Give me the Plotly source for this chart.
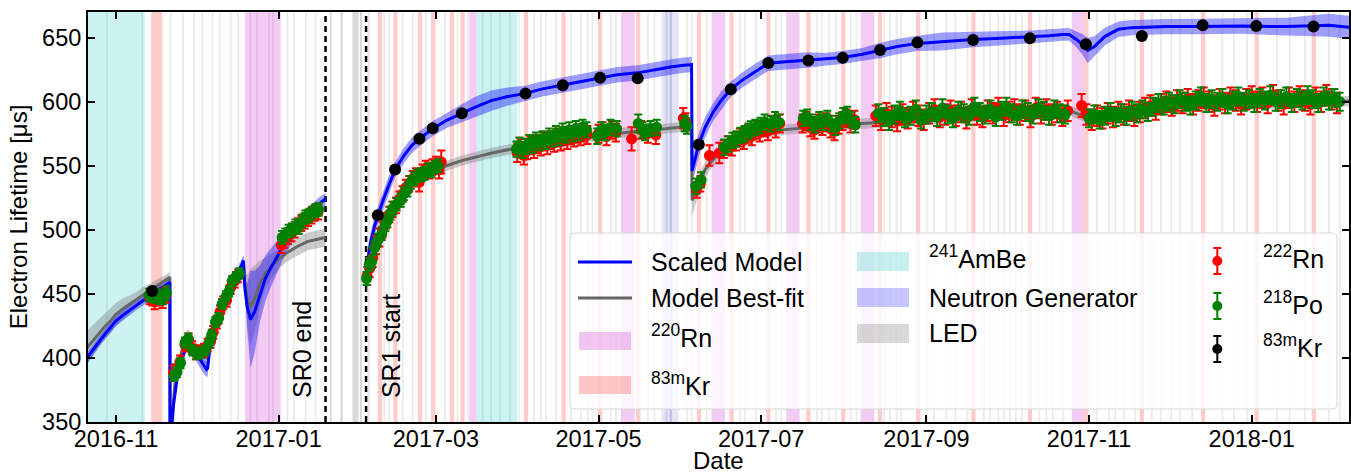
import pandas as pd
import plotly.graph_objects as go

# ---------------- DATA (days since EPOCH) ----------------
EPOCH = pd.Timestamp("2016-11-01")
X_RANGE = ["2016-10-21 12:00", "2018-02-06 12:00"]
Y_RANGE = [350, 670]
SR0_END = 78.6
SR1_START = 93.8

ambe_start = [-14.0, 135.3]
ambe_end = [10.8, 150.6]
rn220_start = [48.4, 132.5, 189.4, 223.4, 251.4, 279.3, 358.5]
rn220_end = [61.8, 135.3, 194.6, 228.5, 256.4, 284.5, 363.2]
kr83_start = [13.2, 98.2, 104.0, 113.2, 118.2, 125.2, 129.2, 153.0, 167.1, 180.8, 195.1, 217.9, 230.1,
              243.9, 258.9, 272.0, 285.8, 300.1, 320.8, 342.0, 363.2, 384.0, 407.0, 427.1, 448.5]
kr83_end = [17.4, 99.8, 105.6, 114.8, 119.8, 126.8, 130.8, 154.6, 168.7, 182.4, 196.7, 219.5, 231.7,
            245.5, 260.5, 273.6, 287.4, 301.7, 322.4, 343.6, 364.8, 385.6, 408.6, 428.7, 450.1]
ng_start = [204.6, 206.0, 207.6]
ng_end = [211.0, 207.0, 208.6]
led_days = [-3.8, 9.5, 20.1, 24.8, 28.9, 32.0, 35.8, 38.6, 42.7, 45.5, 50.0, 52.6, 57.0, 58.6, 63.9, 66.4,
            70.8, 74.5, 94.5, 100.3, 102.1, 107.2, 110.9, 115.9, 123.0, 127.8, 131.6, 137.2, 140.3,
            143.7, 147.4, 150.9, 156.5, 159.0, 160.9, 164.7, 170.3, 174.0, 176.6, 178.4, 185.3, 187.2,
            199.2, 201.6, 207.8, 213.8, 215.6, 221.3, 233.7, 235.6, 239.7, 247.2, 249.2, 262.6, 264.4,
            267.2, 269.7, 275.3, 277.4, 287.8, 290.0, 292.5, 294.1, 303.8, 306.5, 311.1, 314.5, 319.0,
            325.2, 327.5, 330.6, 332.8, 335.0, 337.2, 339.4, 346.0, 348.7, 351.0, 355.0, 367.6, 372.2,
            374.5, 377.8, 381.9, 388.2, 391.6, 395.5, 398.8, 403.3, 414.7, 419.0, 423.9, 435.2, 439.9,
            445.6, 454.6, 458.7]
led_gap_start = [80.2, 84.2, 88.7, 91.5]
led_gap_end = [80.9, 85.1, 91.0, 92.3]

# scaled model (blue) and best-fit model (grey), science run 0
sr0_days = [-12, -10.5, -8, -6, -4, -2, 0, 3, 5.3, 8, 10, 12.8, 15, 18, 20.2,
            20.3, 20.6, 21.0, 21.5, 22.1, 23.0, 24.0, 25.0, 26.0, 27.0, 28.0, 29.5, 31.0, 32.5, 34.0,
            34.4, 35.0, 36.0, 37.5, 39.0, 40.5, 42.0, 43.5, 45.0, 46.5, 47.8, 48.3, 49.2, 50.5, 52.0,
            54.0, 56.0, 58.0, 61.0, 64.0, 68.0, 72.0, 76.0, 78.6]
sr0_scaled = [396, 401, 408, 414, 419, 424, 429, 434, 437.5, 442, 445, 449, 452, 456, 459,
              300, 330, 350, 362, 373, 385, 394, 401, 407, 411, 410, 405, 400, 395, 391,
              392, 404, 418, 428, 437, 445, 451, 457, 463, 469, 476, 455, 440, 430, 436,
              450, 462, 470, 481, 492, 503, 512, 520, 524]
sr0_scaled_err = [4, 4, 4, 4, 4, 4, 4, 4, 4, 4, 4, 4, 4, 4, 4,
                  4, 4, 4, 4, 4, 4, 4, 4, 4, 4, 4, 5, 6, 6, 6,
                  6, 5, 4, 4, 4, 4, 4, 4, 4, 4, 4, 6, 18, 38, 32,
                  22, 18, 15, 12, 9, 6, 5, 5, 5]
sr0_fit = [403, 409, 415, 420, 425, 429, 434, 439, 442, 446, 449, 453, 456, 460, 463,
           300, 320, 345, 365, 380, 392, 400, 408, 414, 418, 414, 409, 405, 402, 400,
           400, 408, 420, 430, 438, 446, 452, 458, 464, 470, 475, 458, 445, 440, 446,
           458, 466, 471, 477, 482, 487, 491, 493, 494]
sr0_fit_err = [14, 13, 12, 11, 10, 10, 9, 8, 7, 6, 6, 5, 5, 4, 4,
               5, 5, 5, 5, 5, 5, 5, 5, 5, 5, 5, 5, 5, 5, 5,
               5, 5, 5, 5, 5, 5, 5, 5, 5, 5, 5, 8, 20, 30, 26,
               18, 12, 10, 8, 7, 7, 7, 7, 7]

# science run 1
sr1_days = [93.8, 94.5, 95.5, 97.0, 98.2, 100, 102, 104.7, 108, 111, 113.8, 118.8, 124, 129.7, 135,
            141, 147, 153.6, 160, 167.6, 175, 181.6, 188, 195.7, 202, 208, 213, 215.9, 216.1, 217,
            218.6, 221, 224, 227, 230.6, 235, 240, 244.7, 250, 259.7, 266, 272.6, 280, 286.6, 293,
            300.6, 310, 321.5, 332, 342.8, 350, 355, 357.5, 360, 362.5, 364.5, 367, 371, 376, 381,
            394, 407, 422, 439, 455, 462.5]
sr1_scaled = [468, 478, 490, 503, 511, 522, 533, 547, 558, 566, 571, 579, 585.5, 591, 596,
              601, 604, 606.5, 610, 613, 616, 618.7, 621, 622.5, 625, 627, 628.5, 629, 546, 553,
              566.6, 580, 592, 601, 609.7, 617, 624, 630, 631, 632.5, 633, 634.5, 637, 640, 643,
              645.5, 647, 648.5, 649.5, 650.5, 651.5, 652.5, 652.5, 649, 644.8, 640, 643, 651, 656.5, 657.8,
              658.6, 658.7, 659.1, 658.6, 659.6, 658]
sr1_scaled_err = [9, 9, 8, 8, 7, 7, 7, 6, 6, 6, 6, 6, 6, 7, 8,
                  8, 7, 6, 6, 6, 6, 6, 6, 6, 6, 6, 6, 6, 6, 10,
                  9, 8, 7, 7, 6, 6, 6, 6, 6, 6, 5, 5, 5, 6, 6,
                  6, 7, 6, 6, 5, 5, 5, 5, 6, 8, 10, 8, 7, 6, 6,
                  6, 6, 6, 7, 9, 9]
sr1_fit = [458, 465, 473, 484, 491, 500, 508, 517, 527, 534, 539, 545, 550, 554, 557,
           560, 562.5, 565, 567.5, 570, 572, 573.5, 575.5, 577, 578, 579.5, 580.5, 581, 523, 528,
           536, 547, 555, 561, 566, 571, 574, 576.5, 578, 580, 581, 582, 583, 584, 585,
           586, 587, 588.5, 590, 591, 592, 593, 593.5, 591, 589, 588, 588, 589.5, 591, 592.5,
           595, 596.5, 598, 599, 600, 600.5]
sr1_fit_err = [9, 8, 7, 6, 5, 5, 5, 4, 4, 4, 4, 4, 4, 4, 4,
               4, 4, 4, 4, 4, 4, 4, 4, 4, 4, 4, 4, 4, 12, 10,
               8, 6, 5, 4, 4, 4, 4, 4, 4, 4, 4, 4, 4, 4, 4,
               4, 4, 4, 4, 4, 4, 4, 4, 4, 4, 4, 4, 4, 4, 4,
               4, 4, 4, 4, 4, 4]

# 222Rn measurements
rn222_days = [12.6, 13.6, 14.5, 15.5, 16.5, 17.5, 18.6,
              21.5, 22.5, 24.0, 25.9, 27.2, 28.5, 30.0, 31.5, 33.0, 34.4, 35.5, 36.5, 37.8, 39.0, 40.2, 41.5, 43.0, 44.5, 45.8,
              62.0, 63.2, 64.5, 65.8, 67.0, 68.3, 69.5, 70.8, 72.0, 73.3, 74.5, 75.8,
              94.2, 95.2, 96.3, 97.5, 98.8, 100.0, 101.3, 102.5, 103.7, 105.0, 106.3, 107.5, 108.7, 110.0, 111.3, 112.5,
              113.7, 115.0, 116.2, 117.5, 118.7, 120.0, 121.2, 122.0,
              150.5, 151.8, 153.0, 154.3, 155.5, 156.8, 158.0, 159.3, 160.5, 161.8, 163.0, 164.3, 165.5, 166.8, 168.0,
              169.3, 170.5, 171.8, 173.0, 174.3, 175.5, 176.8, 181.0, 182.5, 184.0, 186.0, 187.5, 193.4, 197.0, 199.5,
              202.5, 212.8, 213.6,
              217.8, 219.2, 222.6, 226.3, 228.0, 229.5, 231.0, 232.5, 234.0, 235.5, 237.0, 238.5, 240.0, 241.5, 243.0,
              244.5, 246.0, 247.5, 249.0,
              257.5, 259.0, 260.5, 262.0, 263.5, 265.0, 266.5, 268.0, 269.5, 271.0, 272.5, 274.0, 275.5, 277.0,
              285, 287, 289, 291, 293, 295, 297, 299, 301, 303, 305, 307, 309, 311, 313, 315, 317, 319, 321, 323,
              325, 327, 329, 331, 333, 335, 337, 339, 341, 343, 345, 347, 349, 351, 353, 355, 357, 362.2,
              364, 366, 368, 370, 372, 374, 376, 378, 380, 382, 384, 386, 388, 390, 392, 394, 396, 398, 400, 402,
              404, 406, 408, 410, 412, 414, 416, 418, 420, 422, 424, 426, 428, 430, 432, 434, 436, 438, 440, 442,
              444, 446, 448, 450, 452, 454, 456, 458]
rn222_vals = [447, 446, 444, 446, 447, 445, 449,
              388, 390, 397, 410, 414, 408, 404, 405, 406, 410, 413, 420, 428, 436, 443, 445, 455, 460, 464,
              488, 492, 495, 497, 500, 503, 505, 507, 509, 511, 513, 514,
              464, 470, 478, 488, 494, 500, 507, 512, 516, 519, 524, 528, 533, 536, 540, 542,
              537, 545, 548, 546, 549, 551, 547, 553,
              560, 564, 558, 562, 566, 563, 567, 565, 569, 566, 570, 568, 572, 569, 573,
              570, 574, 572, 575, 573, 576, 574, 575, 577, 573, 578, 576, 571, 578, 575,
              574, 587, 584,
              531, 536, 558, 560, 563, 566, 565, 569, 572, 570, 575, 573, 578, 576, 580,
              577, 582, 579, 583,
              583, 585, 580, 578, 583, 581, 584, 579, 577, 582, 585, 587, 583, 586,
              589, 586, 591, 588, 585, 590, 587, 592, 589, 586, 591, 594, 588, 590, 593, 589, 592, 587, 594, 590,
              588, 593, 591, 595, 589, 592, 594, 590, 593, 588, 595, 591, 594, 590, 592, 589, 593, 597,
              590, 586, 589, 587, 591, 588, 592, 590, 593, 589, 592, 595, 597, 594, 598, 600, 597, 601, 599, 602,
              598, 601, 603, 600, 597, 602, 599, 603, 601, 598, 602, 604, 600, 603, 599, 605, 601, 598, 603, 600,
              604, 601, 598, 603, 600, 605, 602, 599]
rn222_errs = [5, 5, 6, 5, 5, 6, 6,
              6, 5, 5, 5, 5, 5, 5, 5, 5, 5, 5, 5, 5, 5, 5, 5, 5, 5, 5,
              6, 6, 6, 6, 6, 6, 6, 6, 6, 6, 6, 6,
              7, 7, 7, 7, 7, 6, 6, 6, 6, 6, 6, 6, 6, 6, 6, 6,
              7, 6, 6, 6, 6, 6, 7, 9,
              7, 7, 7, 7, 7, 7, 7, 7, 7, 7, 7, 7, 7, 7, 7,
              7, 7, 7, 7, 7, 7, 7, 7, 7, 7, 7, 7, 9, 7, 7,
              7, 8, 7,
              6, 6, 8, 8, 7, 7, 7, 7, 7, 7, 7, 7, 7, 7, 7,
              7, 7, 7, 7,
              7, 7, 7, 7, 7, 7, 7, 7, 7, 7, 7, 7, 7, 7,
              8, 8, 8, 8, 8, 8, 8, 8, 8, 8, 8, 8, 8, 8, 8, 8, 8, 8, 8, 8,
              8, 8, 8, 8, 8, 8, 8, 8, 8, 8, 8, 8, 8, 8, 8, 8, 8, 9,
              8, 8, 8, 8, 8, 8, 8, 8, 8, 8, 8, 8, 8, 8, 8, 8, 8, 8, 8, 8,
              8, 8, 8, 8, 8, 8, 8, 8, 8, 8, 8, 8, 8, 8, 8, 8, 8, 8, 8, 8,
              8, 8, 8, 8, 8, 8, 8, 8]

# 218Po measurements
po218_days = [12.4, 13.4, 14.4, 15.6, 16.6, 17.7, 18.9,
              21.8, 22.9, 24.2, 25.9, 27.1, 28.8, 30.3, 31.7, 33.4, 35.0, 35.9, 37.3, 38.5, 39.8, 41.3, 42.4, 43.6, 45.0, 46.3,
              62.3, 63.5, 64.8, 66.0, 67.3, 68.5, 69.8, 71.0, 72.3, 73.5, 74.8, 76.0,
              94.0, 95.0, 95.9, 97.0, 98.3, 99.7, 101.0, 101.8, 103.0, 104.0, 105.3, 106.8, 108.0, 109.3, 110.5, 111.8,
              113.0, 114.5, 115.8, 117.0, 118.3, 119.5, 120.8,
              150.2, 151.3, 152.5, 153.8, 155.0, 156.2, 157.5, 158.7, 160.0, 161.2, 162.5, 163.8, 165.0, 166.2, 167.5,
              168.7, 170.0, 171.2, 172.5, 173.7, 175.0, 176.5, 180.5, 182.0, 183.5, 185.5, 187.8, 195.9, 197.5, 198.4,
              200.5, 202.8, 213.3, 214.2,
              217.5, 219.5, 228.1, 229.8, 231.2, 232.8, 234.3, 235.8, 237.3, 238.1, 239.8, 241.8, 243.3, 245.6, 247.2, 248.7,
              257.8, 259.3, 260.8, 262.3, 263.8, 265.3, 266.8, 268.3, 269.8, 271.3, 272.8, 274.3, 275.8, 277.3,
              286, 288, 290, 292, 294, 296, 298, 300, 302, 304, 306, 308, 310, 312, 314, 316, 318, 320, 322, 324,
              326, 328, 330, 332, 334, 336, 338, 340, 342, 344, 346, 348, 350, 352, 354, 356,
              365, 367, 369, 371, 373, 375, 377, 379, 381, 383, 385, 387, 389, 391, 393, 395, 397, 399, 401, 403,
              405, 407, 409, 411, 413, 415, 417, 419, 421, 423, 425, 427, 429, 431, 433, 435, 437, 439, 441, 443,
              445, 447, 449, 451, 453, 455, 457, 459]
po218_vals = [449, 450, 448, 449, 447, 447, 451,
              386, 389, 396, 412, 415, 406, 403, 404, 406, 412, 418, 428, 431, 442, 448, 452, 460, 463, 466,
              494, 496, 499, 500, 503, 502, 507, 510, 511, 513, 515, 516,
              462, 473, 475, 486, 492, 497, 504, 507, 513, 517, 520, 523, 528, 531, 537, 540,
              542, 543, 544, 547, 546, 549, 550,
              563, 566, 562, 565, 568, 566, 570, 568, 571, 569, 573, 571, 575, 572, 577,
              574, 578, 575, 579, 576, 580, 578, 573, 578, 576, 580, 579, 583, 578, 576,
              579, 580, 583, 581,
              534, 539, 564.5, 567, 569.7, 571, 573.6, 575, 577, 578.8, 580, 581.4, 584, 582.7, 586, 584,
              587, 588, 584, 582, 586, 584, 587, 583, 580, 585, 589, 590, 586, 582,
              591, 588, 585, 590, 593, 587, 589, 594, 586, 590, 592, 588, 595, 590, 587, 593, 591, 589, 596, 592,
              590, 594, 588, 593, 596, 591, 589, 594, 592, 590, 595, 593, 589, 594, 591, 590,
              587, 590, 586, 589, 592, 588, 591, 589, 593, 591, 594, 592, 596, 599, 597, 600, 598, 602, 600, 597,
              601, 604, 599, 602, 600, 603, 598, 601, 604, 600, 602, 599, 603, 601, 605, 600, 602, 604, 599, 603,
              601, 605, 602, 599, 604, 601, 603, 600]
po218_errs = [5, 5, 5, 5, 5, 5, 5,
              4, 4, 4, 4, 4, 4, 4, 4, 4, 4, 4, 4, 4, 4, 4, 4, 4, 4, 4,
              5, 5, 5, 5, 5, 5, 5, 5, 5, 5, 5, 5,
              5, 5, 5, 5, 5, 5, 5, 5, 5, 5, 5, 5, 5, 5, 5, 5,
              5, 5, 5, 5, 5, 5, 5,
              6, 6, 6, 6, 6, 6, 6, 6, 6, 6, 6, 6, 6, 6, 6,
              6, 6, 6, 6, 6, 6, 6, 6, 6, 6, 6, 6, 7, 6, 6,
              6, 6, 6, 6,
              6, 6, 6, 6, 6, 6, 6, 6, 6, 6, 6, 6, 6, 6, 6, 6,
              6, 6, 6, 6, 6, 6, 6, 6, 6, 6, 6, 6, 6, 6,
              7, 7, 7, 7, 7, 7, 7, 7, 7, 7, 7, 7, 7, 7, 7, 7, 7, 7, 7, 7,
              7, 7, 7, 7, 7, 7, 7, 7, 7, 7, 7, 7, 7, 7, 7, 7,
              7, 7, 7, 7, 7, 7, 7, 7, 7, 7, 7, 7, 7, 7, 7, 7, 7, 7, 7, 7,
              7, 7, 7, 7, 7, 7, 7, 7, 7, 7, 7, 7, 7, 7, 7, 7, 7, 7, 7, 7,
              7, 7, 7, 7, 7, 7, 7, 7]

# 83mKr measurements
kr83m_days = [13.6, 98.2, 104.7, 113.8, 118.8, 129.7, 153.6, 167.6, 181.6, 195.7, 218.6, 230.6, 244.7,
              259.7, 272.6, 286.6, 300.6, 321.5, 342.8, 363.8, 384.8, 407.6, 427.7, 449.2]
kr83m_vals = [452.3, 511.3, 547.1, 571.0, 579.3, 591.0, 606.3, 612.9, 618.7, 618.3, 566.6, 609.7, 630.2,
              632.2, 634.2, 640.4, 646.1, 648.2, 649.5, 644.8, 651.3, 659.6, 659.1, 658.6]
kr83m_errs = [2, 2, 2, 2, 2, 2, 2, 2, 2, 2, 2, 2, 2, 2, 2, 2, 2, 2, 2, 2, 2, 2, 2, 2]

# ---------------- helpers ----------------
def d2s(d):
    return (EPOCH + pd.Timedelta(days=float(d))).strftime("%Y-%m-%d %H:%M:%S")

def dates(days):
    return [d2s(d) for d in days]

FONT = "Liberation Sans, Arial, Helvetica, sans-serif"
L, R, T, B = 88, 2, 12, 52
W, H = 1351, 474
PW, PH = W - L - R, H - T - B

def px(xp):
    return (xp - L) / PW

def py(yp):
    return (H - B - yp) / PH

C_AMBE = "rgba(0,191,191,0.2)"
C_RN220 = "rgba(191,0,191,0.2)"
C_KR = "rgba(255,0,0,0.2)"
C_NG = "rgba(70,70,200,0.14)"
C_LED = "rgba(128,128,128,0.15)"
C_LED_GAP = "rgba(128,128,128,0.3)"
LED_DUR = 0.7

shapes = []

def vband(d0, d1, color):
    shapes.append(dict(type="rect", xref="x", yref="paper", x0=d2s(d0), x1=d2s(d1), y0=0, y1=1,
                       fillcolor=color, line=dict(width=0), layer="below"))

for d in led_days:
    vband(d, d + LED_DUR, C_LED)
for a, b in zip(led_gap_start, led_gap_end):
    vband(a, b, C_LED_GAP)
for a, b in zip(ambe_start, ambe_end):
    vband(a, b, C_AMBE)
for a, b in zip(kr83_start, kr83_end):
    vband(a, b, C_KR)
for a, b in zip(rn220_start, rn220_end):
    vband(a, b, C_RN220)
for a, b in zip(ng_start, ng_end):
    vband(a, b, C_NG)

for d in (SR0_END, SR1_START):
    shapes.append(dict(type="line", xref="x", yref="paper", x0=d2s(d), x1=d2s(d), y0=0, y1=1,
                       line=dict(color="black", width=2.5, dash="6px,4px"), layer="below"))

fig = go.Figure()

def band(days, center, err, color):
    up = [c + e for c, e in zip(center, err)]
    lo = [c - e for c, e in zip(center, err)]
    xs = dates(days)
    fig.add_trace(go.Scatter(x=xs + xs[::-1], y=up + lo[::-1], fill="toself", fillcolor=color,
                             line=dict(width=0), mode="lines", hoverinfo="skip", showlegend=False))

for days, fit, fit_err, sc, sc_err in [(sr0_days, sr0_fit, sr0_fit_err, sr0_scaled, sr0_scaled_err),
                                       (sr1_days, sr1_fit, sr1_fit_err, sr1_scaled, sr1_scaled_err)]:
    band(days, fit, fit_err, "rgba(128,128,128,0.4)")
    band(days, sc, sc_err, "rgba(0,0,255,0.38)")
    fig.add_trace(go.Scatter(x=dates(days), y=fit, mode="lines", line=dict(color="#666666", width=3),
                             showlegend=False, name="Model Best-fit"))
    fig.add_trace(go.Scatter(x=dates(days), y=sc, mode="lines", line=dict(color="blue", width=3),
                             showlegend=False, name="Scaled Model"))

def points(days, vals, errs, color, name, size=11):
    fig.add_trace(go.Scatter(x=dates(days), y=vals, mode="markers", name=name, showlegend=False,
                             marker=dict(color=color, size=size, line=dict(width=0)),
                             error_y=dict(type="data", array=errs, color=color, thickness=2, width=4)))

points(rn222_days, rn222_vals, rn222_errs, "red", "222Rn")
points(po218_days, po218_vals, po218_errs, "green", "218Po")
points(kr83m_days, kr83m_vals, kr83m_errs, "black", "83mKr", size=12)

# ---------------- legend (drawn) ----------------
x0, x1, yb, yt = px(570), px(1337), py(409), py(233)
rx, ry = 5 / PW, 5 / PH
path = (f"M {x0+rx},{yb} L {x1-rx},{yb} Q {x1},{yb} {x1},{yb+ry} L {x1},{yt-ry} Q {x1},{yt} {x1-rx},{yt} "
        f"L {x0+rx},{yt} Q {x0},{yt} {x0},{yt-ry} L {x0},{yb+ry} Q {x0},{yb} {x0+rx},{yb} Z")
shapes.append(dict(type="path", xref="paper", yref="paper", path=path, fillcolor="rgba(255,255,255,0.8)",
                   line=dict(color="#d6d6d6", width=1), layer="above"))

def leg_line(y, color):
    shapes.append(dict(type="line", xref="paper", yref="paper", x0=px(578), x1=px(632), y0=py(y), y1=py(y),
                       line=dict(color=color, width=3), layer="above"))

def leg_rect(xa, xb, ya, yb_, color):
    shapes.append(dict(type="rect", xref="paper", yref="paper", x0=px(xa), x1=px(xb), y0=py(yb_), y1=py(ya),
                       fillcolor=color, line=dict(width=0), layer="above"))

def leg_marker(y, color):
    xc = 1217.3
    shapes.append(dict(type="line", xref="paper", yref="paper", x0=px(xc), x1=px(xc), y0=py(y + 13), y1=py(y - 13),
                       line=dict(color=color, width=2), layer="above"))
    for yy in (y - 13, y + 13):
        shapes.append(dict(type="line", xref="paper", yref="paper", x0=px(xc - 4), x1=px(xc + 4), y0=py(yy), y1=py(yy),
                           line=dict(color=color, width=2), layer="above"))
    shapes.append(dict(type="circle", xref="paper", yref="paper", x0=px(xc - 5), x1=px(xc + 5), y0=py(y + 5),
                       y1=py(y - 5), fillcolor=color, line=dict(width=0), layer="above"))

leg_line(262, "blue")
leg_line(298, "#666666")
leg_rect(579, 631, 332, 350, "rgba(191,0,191,0.22)")
leg_rect(579, 631, 376, 394, "rgba(255,0,0,0.22)")
leg_rect(857, 909, 252, 271, "rgba(0,191,191,0.22)")
leg_rect(857, 909, 288, 307, "rgba(0,0,255,0.22)")
leg_rect(857, 909, 324, 343, "rgba(128,128,128,0.3)")
leg_marker(261, "red")
leg_marker(306, "green")
leg_marker(349, "black")

annotations = []

def leg_text(x, y, text):
    annotations.append(dict(xref="paper", yref="paper", x=px(x), y=py(y), text=text, showarrow=False,
                            xanchor="left", yanchor="middle", font=dict(size=25, color="black", family=FONT)))

leg_text(649, 262, "Scaled Model")
leg_text(649, 298, "Model Best-fit")
leg_text(649, 336, "<sup>220</sup>Rn")
leg_text(649, 384, "<sup>83m</sup>Kr")
leg_text(927, 257, "<sup>241</sup>AmBe")
leg_text(927, 298, "Neutron Generator")
leg_text(927, 333, "LED")
leg_text(1261, 257, "<sup>222</sup>Rn")
leg_text(1261, 303, "<sup>218</sup>Po")
leg_text(1261, 346, "<sup>83m</sup>Kr")

annotations.append(dict(xref="x", yref="paper", x=d2s(SR0_END), y=py(400), text="SR0 end", textangle=-90,
                        showarrow=False, xanchor="right", yanchor="bottom", xshift=-8,
                        font=dict(size=25, color="black", family=FONT)))
annotations.append(dict(xref="x", yref="paper", x=d2s(SR1_START), y=py(400), text="SR1 start", textangle=-90,
                        showarrow=False, xanchor="left", yanchor="bottom", xshift=9,
                        font=dict(size=25, color="black", family=FONT)))
# x-axis title
annotations.append(dict(xref="paper", yref="paper", x=0.5, y=py(476), text="Date", showarrow=False,
                        xanchor="center", yanchor="bottom", font=dict(size=24, color="black", family=FONT)))

fig.update_layout(
    width=W, height=H, margin=dict(l=L, r=R, t=T, b=B),
    plot_bgcolor="white", paper_bgcolor="white",
    font=dict(family=FONT, color="black"),
    shapes=shapes, annotations=annotations, showlegend=False,
    xaxis=dict(type="date", range=X_RANGE, tick0="2016-11-01", dtick="M2", tickformat="%Y-%m",
               ticks="inside", ticklen=7, tickwidth=1.5, tickcolor="black", showgrid=False, zeroline=False,
               showline=True, linecolor="black", linewidth=2, mirror="ticks", ticklabelstandoff=-5,
               tickfont=dict(size=23.5, family=FONT), automargin=False),
    yaxis=dict(range=Y_RANGE, dtick=50, tick0=350, ticks="inside", ticklen=7, tickwidth=1.5, tickcolor="black",
               showgrid=False, zeroline=False, showline=True, linecolor="black", linewidth=2, mirror="ticks",
               tickfont=dict(size=23.5, family=FONT), automargin=False,
               title=dict(text="Electron Lifetime [μs]", font=dict(size=24, family=FONT), standoff=8)),
)

fig.write_html("out.html", config={"displayModeBar": False},
               post_script="document.body.style.margin='0px';")
